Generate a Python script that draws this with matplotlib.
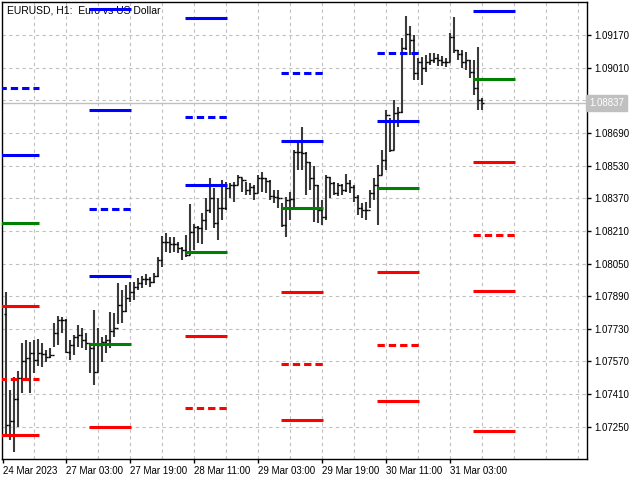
import matplotlib
matplotlib.use('Agg')
import matplotlib.pyplot as plt
import numpy as np

# ---------------- settings ----------------
plt.rcParams['font.family'] = 'Liberation Sans'

# ---------------- data: EURUSD H1 bars (index 0 = 24 Mar 12:00) ----------------
first_open = 1.07803
highs = [1.07911, 1.07431, 1.07494, 1.07524, 1.07661, 1.07676, 1.07666, 1.07676, 1.07680, 1.07661,
         1.07627, 1.07636, 1.07759, 1.07793, 1.07788, 1.07778, 1.07676, 1.07700, 1.07749, 1.07734,
         1.07710, 1.07661, 1.07823, 1.07734, 1.07690, 1.07700, 1.07813, 1.07808, 1.07955, 1.07920,
         1.07945, 1.07960, 1.07960, 1.07979, 1.07989, 1.07999, 1.07984, 1.08004, 1.08082, 1.08185,
         1.08200, 1.08180, 1.08180, 1.08156, 1.08131, 1.08190, 1.08342, 1.08244, 1.08234, 1.08298,
         1.08371, 1.08469, 1.08420, 1.08371, 1.08460, 1.08450, 1.08445, 1.08450, 1.08484, 1.08469,
         1.08450, 1.08445, 1.08435, 1.08484, 1.08499, 1.08469, 1.08460, 1.08411, 1.08411, 1.08347,
         1.08376, 1.08401, 1.08607, 1.08641, 1.08719, 1.08597, 1.08548, 1.08528, 1.08435, 1.08362,
         1.08484, 1.08474, 1.08450, 1.08445, 1.08440, 1.08489, 1.08460, 1.08435, 1.08386, 1.08347,
         1.08352, 1.08411, 1.08469, 1.08533, 1.08607, 1.08803, 1.08763, 1.08852, 1.08817, 1.09155,
         1.09263, 1.09214, 1.09170, 1.09057, 1.09062, 1.09072, 1.09082, 1.09082, 1.09077, 1.09067,
         1.09057, 1.09180, 1.09258, 1.09097, 1.09097, 1.09087, 1.09048, 1.09048, 1.09111, 1.08861]
lows = [1.07200, 1.07186, 1.07127, 1.07249, 1.07416, 1.07480, 1.07416, 1.07514, 1.07548, 1.07543,
        1.07568, 1.07587, 1.07641, 1.07651, 1.07710, 1.07612, 1.07578, 1.07602, 1.07641, 1.07636,
        1.07627, 1.07514, 1.07455, 1.07519, 1.07568, 1.07612, 1.07636, 1.07690, 1.07754, 1.07759,
        1.07813, 1.07862, 1.07872, 1.07920, 1.07930, 1.07945, 1.07935, 1.07955, 1.07984, 1.08033,
        1.08107, 1.08102, 1.08107, 1.08102, 1.08068, 1.08082, 1.08092, 1.08117, 1.08151, 1.08146,
        1.08215, 1.08298, 1.08224, 1.08166, 1.08264, 1.08313, 1.08371, 1.08352, 1.08435, 1.08401,
        1.08386, 1.08386, 1.08362, 1.08396, 1.08401, 1.08396, 1.08362, 1.08347, 1.08322, 1.08229,
        1.08180, 1.08264, 1.08327, 1.08509, 1.08509, 1.08386, 1.08411, 1.08254, 1.08249, 1.08239,
        1.08264, 1.08371, 1.08386, 1.08381, 1.08386, 1.08401, 1.08396, 1.08352, 1.08288, 1.08273,
        1.08264, 1.08322, 1.08362, 1.08239, 1.08484, 1.08509, 1.08597, 1.08607, 1.08719, 1.08788,
        1.09097, 1.09072, 1.08950, 1.08950, 1.08925, 1.08989, 1.09023, 1.09033, 1.09018, 1.09018,
        1.09013, 1.09038, 1.09082, 1.09048, 1.09008, 1.08999, 1.08959, 1.08876, 1.08803, 1.08803]
closes = [1.07259, 1.07279, 1.07386, 1.07489, 1.07573, 1.07587, 1.07612, 1.07578, 1.07612, 1.07607,
          1.07592, 1.07602, 1.07710, 1.07774, 1.07774, 1.07617, 1.07651, 1.07690, 1.07700, 1.07676,
          1.07661, 1.07636, 1.07519, 1.07651, 1.07666, 1.07676, 1.07720, 1.07734, 1.07847, 1.07818,
          1.07881, 1.07911, 1.07935, 1.07955, 1.07974, 1.07974, 1.07960, 1.07989, 1.08068, 1.08156,
          1.08156, 1.08146, 1.08146, 1.08126, 1.08117, 1.08092, 1.08205, 1.08229, 1.08224, 1.08264,
          1.08313, 1.08371, 1.08249, 1.08322, 1.08322, 1.08420, 1.08435, 1.08435, 1.08474, 1.08460,
          1.08411, 1.08425, 1.08396, 1.08469, 1.08469, 1.08455, 1.08381, 1.08376, 1.08371, 1.08239,
          1.08362, 1.08366, 1.08597, 1.08597, 1.08592, 1.08548, 1.08469, 1.08435, 1.08313, 1.08278,
          1.08474, 1.08445, 1.08396, 1.08435, 1.08411, 1.08445, 1.08425, 1.08376, 1.08322, 1.08313,
          1.08313, 1.08396, 1.08435, 1.08484, 1.08558, 1.08778, 1.08607, 1.08788, 1.08793, 1.09106,
          1.09175, 1.09146, 1.08984, 1.09038, 1.09008, 1.09038, 1.09048, 1.09057, 1.09048, 1.09038,
          1.09038, 1.09160, 1.09097, 1.09077, 1.09038, 1.09048, 1.08989, 1.08910, 1.08852, 1.08837]

bid = 1.08837

# daily pivot levels (one value per day: 24, 27, 28, 29, 30, 31 Mar)
nan = np.nan
day_start = [-12, 12, 36, 60, 84, 108]   # bar index of the day's 00:00
pivot = [1.08249, 1.07656, 1.08107, 1.08322, 1.08420, 1.08954]
r1 = [1.08582, 1.07989, 1.08435, 1.08651, 1.08749, 1.09288]
r2 = [1.08910, 1.08317, 1.08768, 1.08984, 1.09082, nan]
r3 = [nan, 1.08803, 1.09253, nan, nan, nan]
r4 = [nan, 1.09297, nan, nan, nan, nan]
s1 = [1.07842, 1.07249, 1.07695, 1.07911, 1.08009, 1.08548]
s2 = [1.07484, nan, 1.07342, 1.07558, 1.07651, 1.08190]
s3 = [1.07210, nan, nan, 1.07284, 1.07377, 1.07916]
s4 = [nan, nan, nan, nan, nan, 1.07230]

ytick_vals = [1.07250, 1.07410, 1.07570, 1.07730, 1.07890, 1.08050, 1.08210,
              1.08370, 1.08530, 1.08690, 1.08850, 1.09010, 1.09170]
xtick_pos = [-0.8, 15, 31, 47, 63, 79, 95, 111]
xtick_labels = ['24 Mar 2023', '27 Mar 03:00', '27 Mar 19:00', '28 Mar 11:00',
                '29 Mar 03:00', '29 Mar 19:00', '30 Mar 11:00', '31 Mar 03:00']

# ---------------- figure ----------------
fig = plt.figure(figsize=(6.4, 4.8), dpi=100)
ax = fig.add_axes([2/640, 21/480, 585/640, 457/480])
ax.set_xlim(-1, 145.25)
ax.set_ylim(1.07092, 1.09332)

# grid
for yv in ytick_vals:
    ax.axhline(yv, color='#c0c0c0', lw=0.8, ls=(0, (3, 3)), zorder=0)
for xv in range(7, 146, 8):
    ax.axvline(xv, color='#c0c0c0', lw=0.8, ls=(0, (3, 3)), zorder=0)

# bid line
ax.axhline(bid, color='#c0c0c0', lw=1.0, zorder=1)

# title
ax.text(0.008, 0.993, 'EURUSD, H1:  Euro vs US Dollar', transform=ax.transAxes,
        ha='left', va='top', fontsize=7.5, zorder=1)

# OHLC bars
idx = np.arange(len(closes))
opens = np.r_[first_open, closes[:-1]]
ax.vlines(idx, lows, highs, color='#3a3a3a', lw=1.5, zorder=2)
ax.hlines(opens, idx - 0.45, idx, color='black', lw=1.0, zorder=2)
ax.hlines(closes, idx, idx + 0.45, color='black', lw=1.0, zorder=2)

# pivot segments
levels = [
    (r4, 'blue', False), (r3, 'blue', False), (r2, 'blue', True), (r1, 'blue', False),
    (pivot, 'green', False),
    (s1, 'red', False), (s2, 'red', True), (s3, 'red', False), (s4, 'red', False),
]
for d, ds in enumerate(day_start):
    x0, x1 = ds + 8.75, ds + 19.25
    if d == 0:
        x1 += 1   # first (partial) day's segment ends a little later
    for vals, col, dashed in levels:
        v = vals[d]
        if np.isnan(v):
            continue
        if dashed:
            ax.plot([x0, x1], [v, v], color=col, lw=2.2, dashes=(2.4, 1.3),
                    solid_capstyle='butt', dash_capstyle='butt', zorder=3)
        else:
            ax.plot([x0, x1], [v, v], color=col, lw=2.2, solid_capstyle='butt', zorder=3)

# axes style
ax.yaxis.tick_right()
ax.set_yticks(ytick_vals)
# the 1.08850 label sits under the bid price box
ax.set_yticklabels(['' if abs(v - 1.08850) < 1e-6 else f'{v:.5f}' for v in ytick_vals])
ax.set_xticks(xtick_pos)
ax.set_xticklabels(xtick_labels)
for lab in ax.get_xticklabels():
    lab.set_ha('left')
ax.tick_params(axis='both', direction='out', length=3, width=1, labelsize=7, pad=2)
for sp in ax.spines.values():
    sp.set_linewidth(1.0)

# bid label box
ax.text(1.004, bid, '1.08837', transform=ax.get_yaxis_transform(), ha='left', va='center',
        fontsize=7, color='white', clip_on=False, zorder=10,
        bbox=dict(facecolor='#c0c0c0', edgecolor='#c0c0c0', boxstyle='square,pad=0.3'))

plt.savefig('out.png', dpi=100)
